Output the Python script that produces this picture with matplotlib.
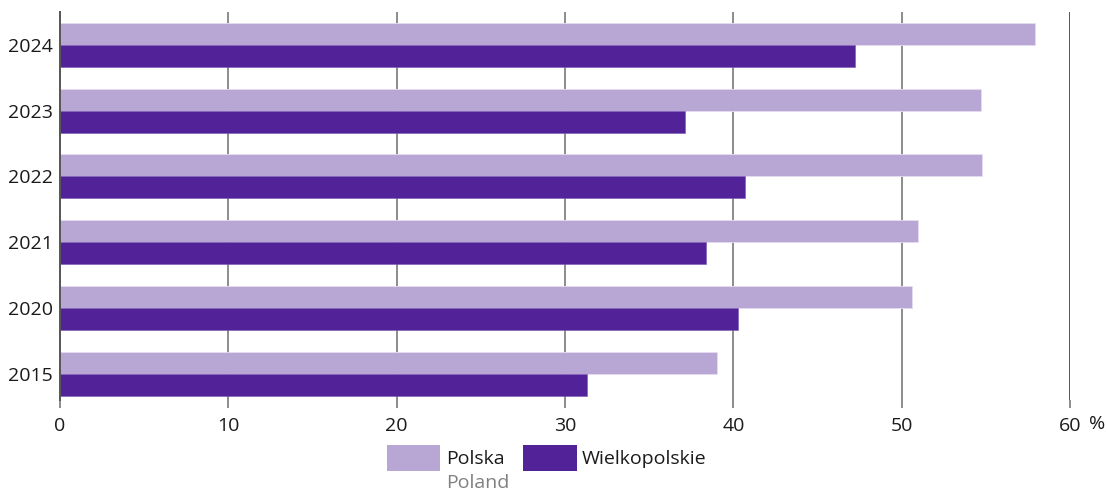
import numpy as np
import matplotlib
matplotlib.use("Agg")
import matplotlib.pyplot as plt
from matplotlib.patches import Rectangle

years = ["2015", "2020", "2021", "2022", "2023", "2024"]
polska = [39.0, 50.6, 51.0, 54.8, 54.7, 57.9]
wielkopolskie = [31.3, 40.3, 38.4, 40.7, 37.1, 47.2]
x_ticks = [0, 10, 20, 30, 40, 50, 60]

col_light = "#b8a6d4"
col_dark = "#522398"
grid_col = "#8c8c8c"

plt.rcParams['font.family'] = ['Open Sans', 'DejaVu Sans']

W, H = 1107, 490
fig = plt.figure(figsize=(W / 100, H / 100), dpi=100)
ax = fig.add_axes([60 / W, (H - 400) / H, (1070 - 60) / W, (400 - 12) / H])

y = np.arange(len(years))
h = 1 / 3
ax.barh(y + h / 2, polska, height=h, color=col_light, edgecolor="#e6dcf2", linewidth=0.6, zorder=3)
ax.barh(y - h / 2, wielkopolskie, height=h, color=col_dark, edgecolor="#7a55b5", linewidth=0.4, zorder=3)

ax.set_xlim(0, 60)
ax.set_ylim(-0.4, 5.5)
ax.set_yticks(y)
ax.set_yticklabels(years)
ax.set_xticks(x_ticks)
ax.set_xticklabels([str(t) for t in x_ticks])

for t in x_ticks[1:]:
    ax.axvline(t, color="#555555" if t == 60 else grid_col, linewidth=1.4, zorder=1)

for s in ["top", "right", "bottom"]:
    ax.spines[s].set_visible(False)
ax.spines["left"].set_color("#555555")
ax.spines["left"].set_linewidth(1.4)
ax.spines["left"].set_zorder(4)

ax.tick_params(axis="y", length=0, pad=5, labelsize=14, colors="#1a1a1a")
ax.tick_params(axis="x", length=6, width=1.4, color=grid_col, pad=6, labelsize=14, labelcolor="#1a1a1a")

fig.text(1097 / W, 1 - 424 / H, "%", ha="center", va="center", fontsize=14, color="#1a1a1a")

# legend
fig.patches.append(Rectangle((387 / W, 1 - 471 / H), 53 / W, 26 / H, transform=fig.transFigure,
                             facecolor=col_light, edgecolor="none"))
fig.patches.append(Rectangle((523 / W, 1 - 471 / H), 54 / W, 26 / H, transform=fig.transFigure,
                             facecolor=col_dark, edgecolor="none"))
fig.text(446 / W, 1 - 459 / H, "Polska", ha="left", va="center", fontsize=14, color="#1a1a1a")
fig.text(446 / W, 1 - 483 / H, "Poland", ha="left", va="center", fontsize=14, color="#808080")
fig.text(582 / W, 1 - 459 / H, "Wielkopolskie", ha="left", va="center", fontsize=14, color="#1a1a1a")

fig.savefig("out.png", dpi=100)
